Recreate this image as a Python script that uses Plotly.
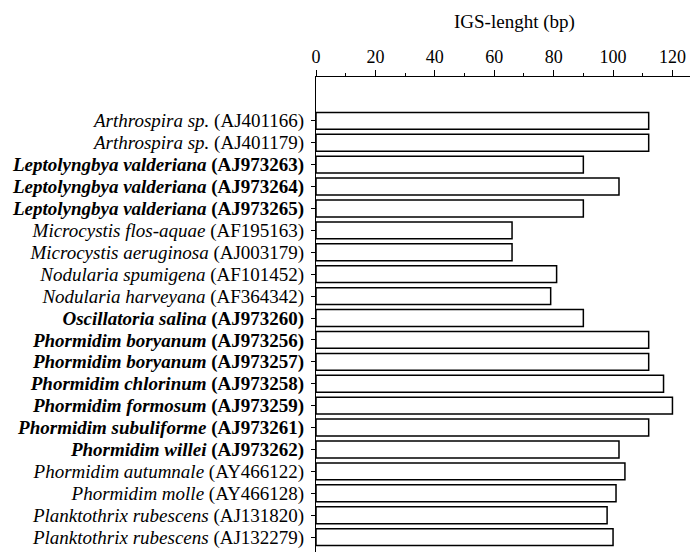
import plotly.graph_objects as go

species = [
    "Arthrospira sp.", "Arthrospira sp.",
    "Leptolyngbya valderiana", "Leptolyngbya valderiana", "Leptolyngbya valderiana",
    "Microcystis flos-aquae", "Microcystis aeruginosa",
    "Nodularia spumigena", "Nodularia harveyana",
    "Oscillatoria salina",
    "Phormidim boryanum", "Phormidim boryanum", "Phormidim chlorinum",
    "Phormidim formosum", "Phormidim subuliforme", "Phormidim willei",
    "Phormidim autumnale", "Phormidim molle",
    "Planktothrix rubescens", "Planktothrix rubescens",
]
accessions = [
    "AJ401166", "AJ401179", "AJ973263", "AJ973264", "AJ973265",
    "AF195163", "AJ003179", "AF101452", "AF364342", "AJ973260",
    "AJ973256", "AJ973257", "AJ973258", "AJ973259", "AJ973261",
    "AJ973262", "AY466122", "AY466128", "AJ131820", "AJ132279",
]
highlighted = [
    False, False, True, True, True, False, False, False, False, True,
    True, True, True, True, True, True, False, False, False, False,
]
igs_length = [
    112, 112, 90, 102, 90, 66, 66, 81, 79, 90,
    112, 112, 117, 120, 112, 102, 104, 101, 98, 100,
]
x_ticks = [0, 20, 40, 60, 80, 100, 120]

labels = []
for sp, acc, hl in zip(species, accessions, highlighted):
    if hl:
        labels.append(f"<b><i>{sp}</i> ({acc})</b>")
    else:
        labels.append(f"<i>{sp}</i> ({acc})")

positions = list(range(len(species)))

fig = go.Figure(go.Bar(
    x=igs_length,
    y=positions,
    orientation="h",
    width=0.77,
    marker=dict(color="white", line=dict(color="black", width=1.5)),
))

font_family = "Liberation Serif, Times New Roman, serif"

# page body has an 8px default margin, so the figure is drawn 8px in from the corner
fig.update_layout(
    width=690, height=544,
    margin=dict(l=308, r=0, t=69, b=0),
    paper_bgcolor="white", plot_bgcolor="white",
    font=dict(family=font_family, size=18, color="black"),
    showlegend=False,
    xaxis=dict(
        side="top", range=[0, 128.6],
        tickvals=x_ticks, ticktext=[str(v) for v in x_ticks],
        ticks="outside", ticklen=6, tickwidth=1, tickcolor="black",
        showline=True, linecolor="black", linewidth=1,
        showgrid=False, zeroline=False,
        minor=dict(dtick=10, ticks="outside", ticklen=3, tickcolor="black", showgrid=False),
        tickfont=dict(size=18),
    ),
    yaxis=dict(
        range=[19.68, -2.0],
        tickvals=positions, ticktext=labels,
        ticks="outside", ticklen=4, tickwidth=1, tickcolor="black",
        ticklabelstandoff=3,
        showline=True, linecolor="black", linewidth=1,
        showgrid=False, zeroline=False,
        tickfont=dict(size=19),
    ),
    annotations=[dict(
        text="IGS-lenght (bp)", xref="paper", yref="paper",
        x=0.52, y=1, yshift=55, xanchor="center", yanchor="middle",
        showarrow=False, font=dict(size=19),
    )],
)

fig.write_html("out.html")
